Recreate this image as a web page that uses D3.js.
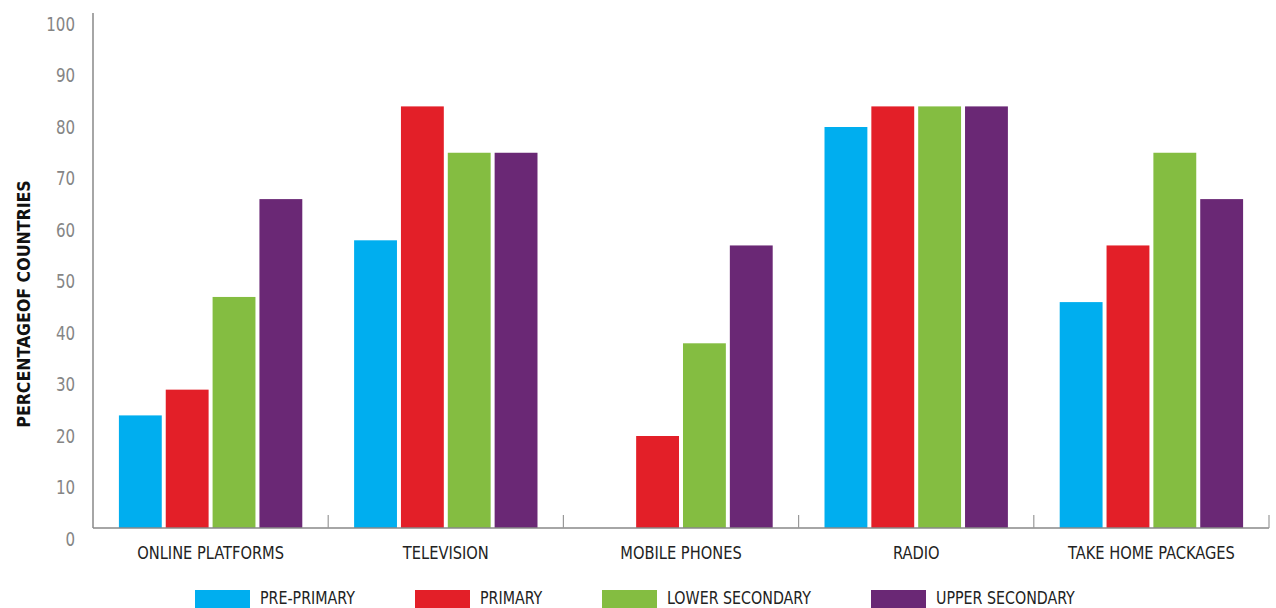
<!DOCTYPE html>
<html>
<head>
<meta charset="utf-8">
<script src="https://cdn.jsdelivr.net/npm/d3@7"></script>
<style>
    body { margin: 0; background: #fff; }
    text { font-family: "Liberation Sans Narrow", "DejaVu Sans Condensed", "Roboto", sans-serif; }
</style>
</head>
<body>
<svg id="chart" width="1276" height="608"></svg>
<script>
// categories and series
let categories = ["ONLINE PLATFORMS", "TELEVISION", "MOBILE PHONES", "RADIO", "TAKE HOME PACKAGES"];
let levels = ["PRE-PRIMARY", "PRIMARY", "LOWER SECONDARY", "UPPER SECONDARY"];
let prePrimary = [24, 58, 0, 80, 46];
let primary = [29, 84, 20, 84, 57];
let lowerSecondary = [47, 75, 38, 84, 75];
let upperSecondary = [66, 75, 57, 84, 66];
let yTicks = [0, 10, 20, 30, 40, 50, 60, 70, 80, 90, 100];

let colors = ["#00AEEF", "#E31F28", "#84BD41", "#6A2875"];
let series = [prePrimary, primary, lowerSecondary, upperSecondary];

let svg = d3.select("#chart");

let plotLeft = 93, plotRight = 1269, plotTop = 13, baseline = 528;
let squeeze = 0.88; // narrow the fallback font to look condensed

let x0 = d3.scaleBand().domain(categories).range([plotLeft, plotRight]).paddingInner(0).paddingOuter(0);
let x1 = d3.scaleBand().domain(levels).range([0, x0.bandwidth()])
    .paddingInner(0.085).paddingOuter(0.553);
let y = d3.scaleLinear().domain([0, 100]).range([539, 24]);

// text placed at (x, y) and squeezed horizontally
function label(parent, x, yPos, txt, anchor, size, color) {
    return parent.append("g")
        .attr("transform", `translate(${x},${yPos}) scale(${squeeze},1)`)
        .append("text")
        .attr("text-anchor", anchor)
        .attr("font-size", size)
        .attr("fill", color)
        .text(txt);
}

// bars
categories.forEach((cat, ci) => {
    let g = svg.append("g").attr("transform", `translate(${x0(cat)},0)`);
    levels.forEach((lvl, li) => {
        let v = series[li][ci];
        let h = Math.max(0, baseline - y(v));
        g.append("rect")
            .attr("x", x1(lvl))
            .attr("y", baseline - h)
            .attr("width", x1.bandwidth())
            .attr("height", h)
            .attr("fill", colors[li]);
    });
});

// y axis line
svg.append("line")
    .attr("x1", plotLeft).attr("x2", plotLeft)
    .attr("y1", plotTop).attr("y2", baseline)
    .attr("stroke", "#888").attr("stroke-width", 1.5);

// y tick labels
yTicks.forEach((d) => {
    label(svg, 75, y(d), d, "end", 19, "#858585").attr("dy", "0.35em");
});

// x axis line + dividers
svg.append("line")
    .attr("x1", plotLeft).attr("x2", plotRight)
    .attr("y1", baseline).attr("y2", baseline)
    .attr("stroke", "#888").attr("stroke-width", 1.5);

let dividers = categories.map((c) => x0(c) + x0.bandwidth());
svg.append("g").selectAll("line")
    .data(dividers)
    .join("line")
    .attr("x1", (d) => d).attr("x2", (d) => d)
    .attr("y1", baseline).attr("y2", baseline - 13)
    .attr("stroke", "#999").attr("stroke-width", 1.2);

// x labels
categories.forEach((c) => {
    label(svg, x0(c) + x0.bandwidth() / 2, 559, c, "middle", 18.5, "#222");
});

// y title
svg.append("text")
    .attr("transform", "translate(30,304) rotate(-90) scale(0.95,1)")
    .attr("text-anchor", "middle")
    .attr("font-size", 18.5)
    .attr("font-weight", "bold")
    .attr("fill", "#111")
    .text("PERCENTAGEOF COUNTRIES");

// legend
let legendX = [195, 415, 602, 871];
let legend = svg.append("g");
levels.forEach((lvl, i) => {
    legend.append("rect")
        .attr("x", legendX[i]).attr("y", 590)
        .attr("width", 55).attr("height", 18)
        .attr("fill", colors[i]);
    label(legend, legendX[i] + 65, 604, lvl, "start", 18, "#222");
});
</script>
</body>
</html>
